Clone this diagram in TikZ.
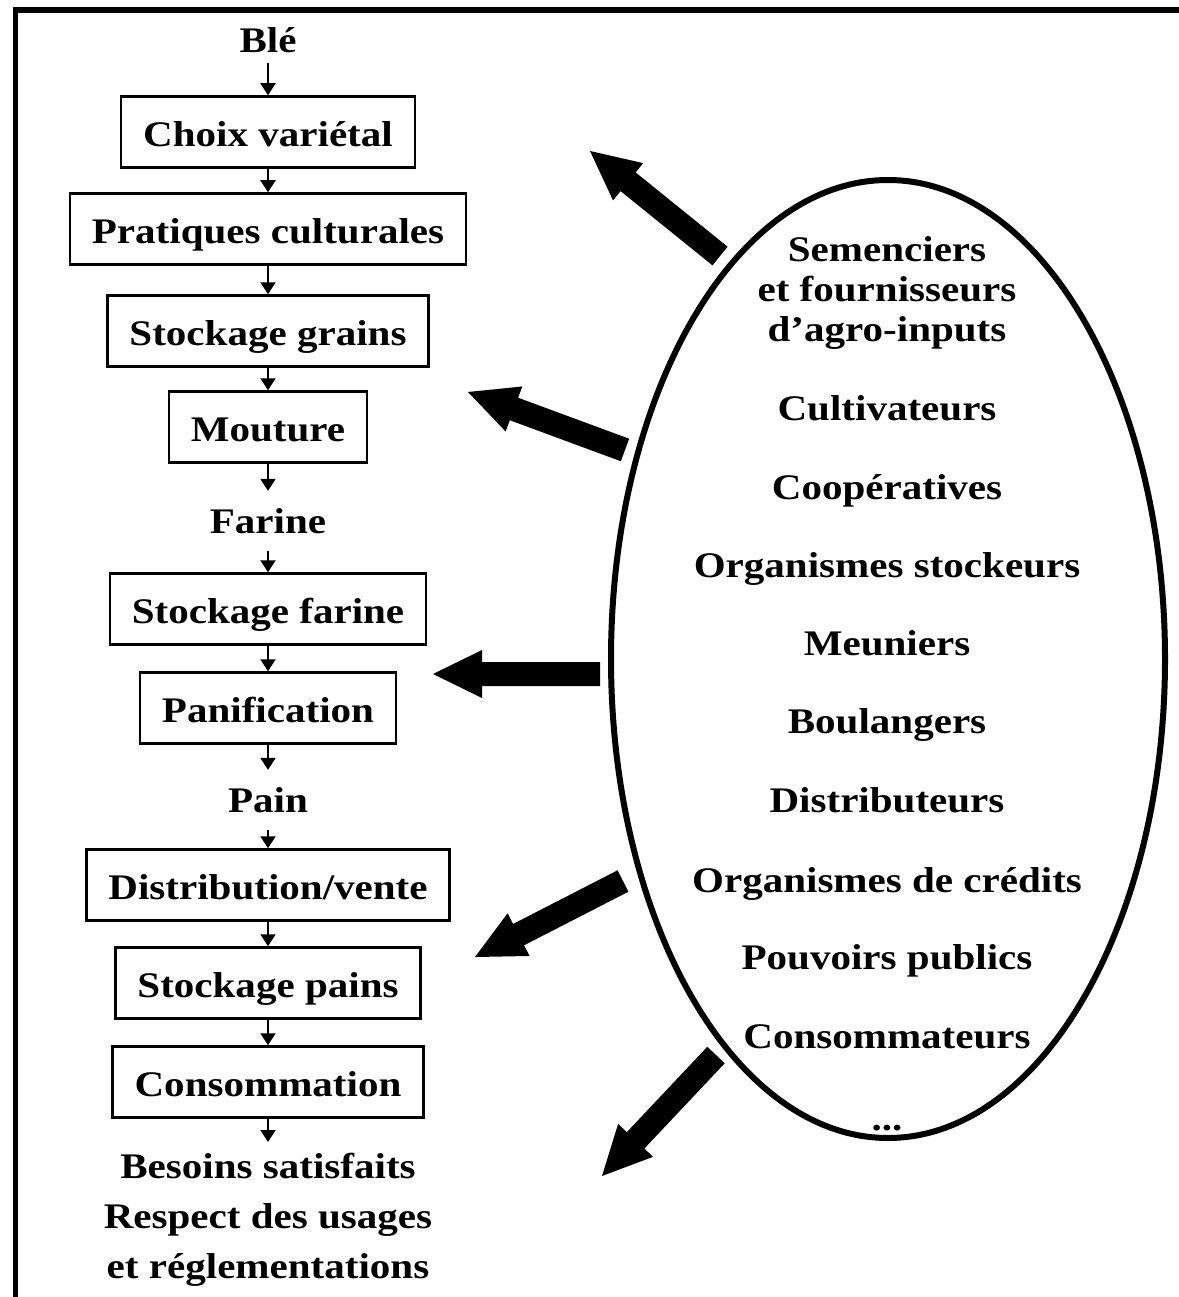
\documentclass[tikz,border=0pt]{standalone}
\usepackage{fontspec}
\setmainfont{Liberation Serif}[FakeStretch=1.14]
\usetikzlibrary{shapes.geometric,arrows.meta,calc}

% thick block arrow from #1 (tail) to #2 (tip)
\newcommand\blockarrow[2]{%
  \coordinate (ba-h) at ($(#2)!49pt!(#1)$);
  \fill ($(#1)!12pt!90:(#2)$) -- ($(ba-h)!12pt!90:(#2)$) -- ($(ba-h)!24pt!90:(#2)$)
     -- (#2) -- ($(ba-h)!24pt!-90:(#2)$) -- ($(ba-h)!12pt!-90:(#2)$)
     -- ($(#1)!12pt!-90:(#2)$) -- cycle;}

\begin{document}
\begin{tikzpicture}[x=1pt,y=-1pt,
  every node/.style={font=\fontsize{36}{40}\selectfont\bfseries},
  stage/.style={draw, line width=2.5pt, minimum height=71pt, inner xsep=22pt,
                inner ysep=0pt, text height=29pt, text depth=0pt},
  product/.style={anchor=base, inner xsep=0pt, inner ysep=17pt},
  actor/.style={anchor=base, inner sep=0pt},
  flow/.style={line width=2pt, -{Triangle[length=12pt,width=15pt]}},
]
\useasboundingbox (0,0) rectangle (1178,1297);

% frame
\draw[line width=5.5pt] (15.5,1300) -- (15.5,10) -- (1180,10);

% process chain
\node[product, inner ysep=9pt] (ble) at (268,53) {Blé};
\node[stage] (choix)   at (268,132)  {Choix variétal};
\node[stage] (prat)    at (268,229)  {Pratiques culturales};
\node[stage] (sgrains) at (268,331)  {Stockage grains};
\node[stage] (mout)    at (268,427)  {Mouture};
\node[product] (farine) at (268,533) {Farine};
\node[stage] (sfarine) at (268,609)  {Stockage farine};
\node[stage] (panif)   at (268,708)  {Panification};
\node[product] (pain)  at (268,812)  {Pain};
\node[stage] (dist)    at (268,885)  {Distribution/vente};
\node[stage] (spains)  at (268,983)  {Stockage pains};
\node[stage] (conso)   at (268,1082) {Consommation};
\node[anchor=north, align=center, inner xsep=0pt, inner ysep=11pt,
      font=\fontsize{36}{50}\selectfont\bfseries] (besoins) at (268,1142)
  {Besoins satisfaits\\Respect des usages\\et réglementations};

\draw[flow] (ble) -- (choix);
\draw[flow] (choix) -- (prat);
\draw[flow] (prat) -- (sgrains);
\draw[flow] (sgrains) -- (mout);
\draw[flow] (mout) -- (farine);
\draw[flow] (farine) -- (sfarine);
\draw[flow] (sfarine) -- (panif);
\draw[flow] (panif) -- (pain);
\draw[flow] (pain) -- (dist);
\draw[flow] (dist) -- (spains);
\draw[flow] (spains) -- (conso);
\draw[flow] (conso) -- (besoins);

% actors
\node[draw, ellipse, line width=6pt, minimum width=554pt, minimum height=958pt,
      inner sep=0pt] (actors) at (888,659) {};
\node[align=center, inner sep=0pt] (semen) at (887,293)
  {Semenciers\\et fournisseurs\\d’agro-inputs};
\node[actor] (cult)  at (887,420)  {Cultivateurs};
\node[actor] (coop)  at (887,499)  {Coopératives};
\node[actor] (ostk)  at (887,577)  {Organismes stockeurs};
\node[actor] (meun)  at (887,655)  {Meuniers};
\node[actor] (boul)  at (887,733)  {Boulangers};
\node[actor] (distr) at (887,812)  {Distributeurs};
\node[actor] (ocred) at (887,892)  {Organismes de crédits};
\node[actor] (pouv)  at (887,969)  {Pouvoirs publics};
\node[actor] (cons)  at (887,1048) {Consommateurs};
\node[actor] (etc)   at (887,1130) {...};

% influence arrows
\coordinate (t1) at (720,256);  \coordinate (p1) at (590,151);
\coordinate (t2) at (625,450);  \coordinate (p2) at (468,392);
\coordinate (t3) at (600,674);  \coordinate (p3) at (433,674);
\coordinate (t4) at (623,881);  \coordinate (p4) at (475,957);
\coordinate (t5) at (716,1055); \coordinate (p5) at (602,1176);
\blockarrow{t1}{p1}
\blockarrow{t2}{p2}
\blockarrow{t3}{p3}
\blockarrow{t4}{p4}
\blockarrow{t5}{p5}
\end{tikzpicture}
\end{document}
